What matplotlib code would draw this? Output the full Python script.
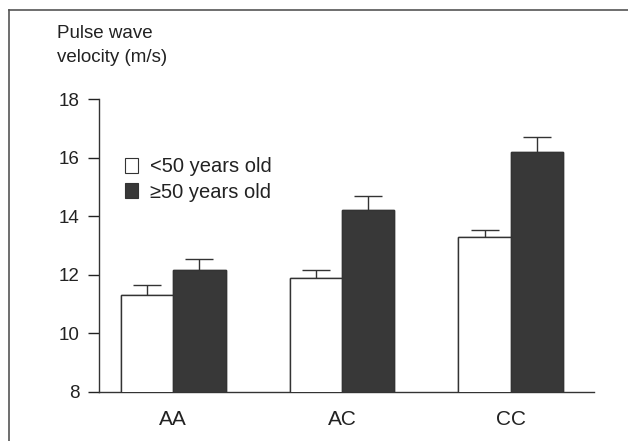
from matplotlib import pyplot as plt
from matplotlib.patches import Patch
from matplotlib.lines import Line2D
import numpy as np

plt.rcParams['font.family'] = ['Liberation Sans', 'DejaVu Sans']

genotypes = ['AA', 'AC', 'CC']
under50 = [11.3, 11.9, 13.3]
under50_err = [0.35, 0.25, 0.22]
over50 = [12.15, 14.2, 16.2]
over50_err = [0.38, 0.5, 0.52]

textcol = '#222222'
dark = '#383838'

fig = plt.figure(figsize=(6.28, 4.41), dpi=100)
ax = fig.add_axes([0.1576, 0.1118, 0.7883, 0.663])

x = np.arange(len(genotypes))
w = 0.31
ax.bar(x - w/2, under50, w, color='white', edgecolor='#333333', linewidth=1,
       yerr=under50_err, error_kw=dict(ecolor='#333333', elinewidth=1, capsize=10, capthick=1),
       zorder=2)
ax.bar(x + w/2, over50, w, color=dark, edgecolor='#333333', linewidth=1,
       yerr=over50_err, error_kw=dict(ecolor='#333333', elinewidth=1, capsize=10, capthick=1),
       zorder=2)

# errors only upward: hide lower half by drawing bars over it
ax.bar(x - w/2, under50, w, color='white', edgecolor='#333333', linewidth=1, zorder=3)
ax.bar(x + w/2, over50, w, color=dark, edgecolor='#333333', linewidth=1, zorder=3)

ax.set_xlim(-0.44, 2.494)
ax.set_ylim(8, 18)
ax.set_yticks([8, 10, 12, 14, 16, 18])
ax.set_xticks(x)
ax.set_xticklabels(genotypes)
ax.tick_params(axis='x', length=0, pad=13, labelsize=15, colors=textcol)
ax.tick_params(axis='y', length=8, width=1, pad=6, labelsize=13.5, colors=textcol)
for s in ['top', 'right']:
    ax.spines[s].set_visible(False)
for s in ['left', 'bottom']:
    ax.spines[s].set_color('#333333')
    ax.spines[s].set_linewidth(1)

fig.text(57/628, 1 - 25/441, 'Pulse wave\nvelocity (m/s)', ha='left', va='top',
         fontsize=13.5, color=textcol, linespacing=1.5)

handles = [Patch(facecolor='white', edgecolor='#333333', linewidth=0.8),
           Patch(facecolor=dark, edgecolor='#333333', linewidth=0.8)]
ax.legend(handles, ['<50 years old', '\u226550 years old'], loc='upper left',
          bbox_to_anchor=(0.025, 0.85), frameon=False, fontsize=14.5,
          handlelength=0.6, handleheight=0.75, handletextpad=0.6, labelspacing=0.32,
          borderaxespad=0.3, labelcolor=textcol)

# frame of the scanned figure
fig.add_artist(Line2D([9/628, 9/628], [0, 1 - 10/441], transform=fig.transFigure,
                      color='#555555', linewidth=1.2))
fig.add_artist(Line2D([9/628, 1], [1 - 10/441, 1 - 10/441], transform=fig.transFigure,
                      color='#555555', linewidth=1.2))

plt.savefig('out.png', dpi=100)
